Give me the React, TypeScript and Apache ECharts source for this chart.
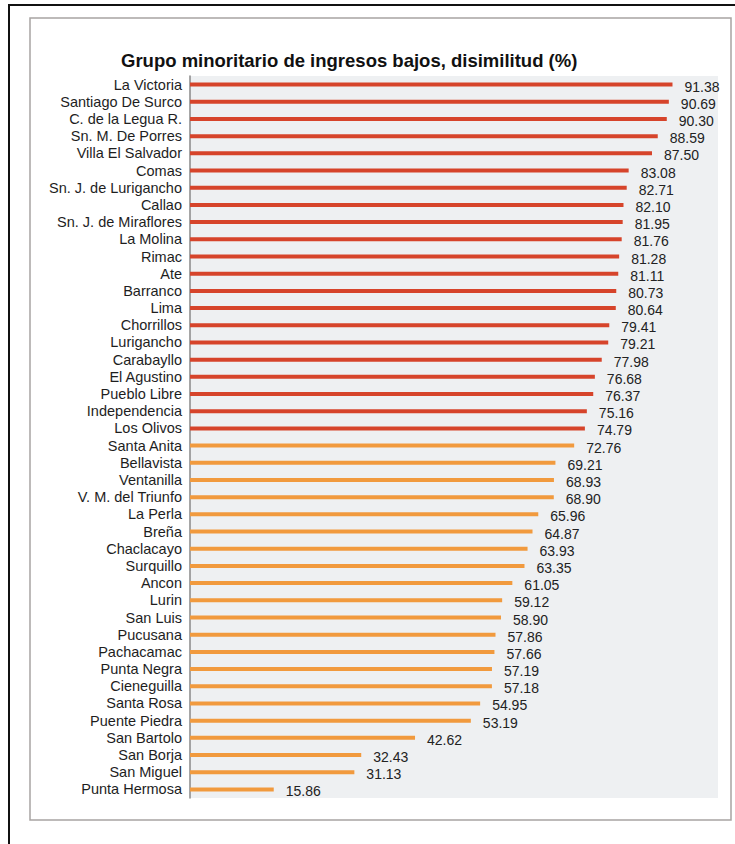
import React, { useEffect, useRef } from "react";
import * as echarts from "echarts";

const districts = [
  "La Victoria", "Santiago De Surco", "C. de la Legua R.", "Sn. M. De Porres", "Villa El Salvador",
  "Comas", "Sn. J. de Lurigancho", "Callao", "Sn. J. de Miraflores", "La Molina",
  "Rimac", "Ate", "Barranco", "Lima", "Chorrillos",
  "Lurigancho", "Carabayllo", "El Agustino", "Pueblo Libre", "Independencia",
  "Los Olivos", "Santa Anita", "Bellavista", "Ventanilla", "V. M. del Triunfo",
  "La Perla", "Breña", "Chaclacayo", "Surquillo", "Ancon",
  "Lurin", "San Luis", "Pucusana", "Pachacamac", "Punta Negra",
  "Cieneguilla", "Santa Rosa", "Puente Piedra", "San Bartolo", "San Borja",
  "San Miguel", "Punta Hermosa",
];

const dissimilarity = [
  91.38, 90.69, 90.3, 88.59, 87.5,
  83.08, 82.71, 82.1, 81.95, 81.76,
  81.28, 81.11, 80.73, 80.64, 79.41,
  79.21, 77.98, 76.68, 76.37, 75.16,
  74.79, 72.76, 69.21, 68.93, 68.9,
  65.96, 64.87, 63.93, 63.35, 61.05,
  59.12, 58.9, 57.86, 57.66, 57.19,
  57.18, 54.95, 53.19, 42.62, 32.43,
  31.13, 15.86,
];

// "high" tier drawn in red, "low" tier in orange
const tiers = [
  "high", "high", "high", "high", "high", "high", "high", "high", "high", "high", "high",
  "high", "high", "high", "high", "high", "high", "high", "high", "high", "high",
  "low", "low", "low", "low", "low", "low", "low", "low", "low", "low", "low",
  "low", "low", "low", "low", "low", "low", "low", "low", "low", "low",
];

const titleText = "Grupo minoritario de ingresos bajos, disimilitud (%)";

const FONT = '"Liberation Sans", Arial, sans-serif';
const RED = "#d6442b";
const ORANGE = "#f19a3e";

export default function App() {
  const ref = useRef<HTMLDivElement>(null);

  useEffect(() => {
    document.body.style.margin = "0";
    if (!ref.current) return;
    const chart = echarts.init(ref.current, null, { renderer: "svg" });
    chart.setOption({
      animation: false,
      backgroundColor: "#ffffff",
      graphic: [
        {
          type: "rect",
          z: -10,
          silent: true,
          shape: { x: 9, y: 5, width: 740, height: 850 },
          style: { fill: "#ffffff", stroke: "#111111", lineWidth: 2 },
        },
        {
          type: "rect",
          z: -9,
          silent: true,
          shape: { x: 30, y: 18, width: 701, height: 802 },
          style: { fill: "#ffffff", stroke: "#a8a4a2", lineWidth: 1.5 },
        },
      ],
      title: {
        text: titleText,
        left: 116,
        top: 46,
        textStyle: { fontFamily: FONT, fontSize: 18.5, fontWeight: "bold", color: "#111111" },
      },
      grid: {
        left: 190,
        right: 17,
        top: 76,
        height: 722,
        show: true,
        backgroundColor: "#eef0f2",
        borderWidth: 0,
      },
      xAxis: {
        type: "value",
        min: 0,
        max: 100,
        show: false,
      },
      yAxis: {
        type: "category",
        inverse: true,
        data: districts,
        axisLine: { show: true, lineStyle: { color: "#888888", width: 1.5 } },
        axisTick: { show: false },
        axisLabel: { fontFamily: FONT, fontSize: 14.5, color: "#1e1e1e", margin: 8, interval: 0 },
        splitLine: { show: false },
      },
      series: [
        {
          type: "bar",
          barWidth: 4,
          data: dissimilarity.map((v, i) => ({
            value: v,
            itemStyle: { color: tiers[i] === "high" ? RED : ORANGE },
          })),
          label: {
            show: true,
            position: "right",
            distance: 12,
            offset: [0, 2],
            fontFamily: FONT,
            fontSize: 14,
            color: "#222222",
            formatter: (p: any) => Number(p.value).toFixed(2),
          },
        },
      ],
    });
    return () => chart.dispose();
  }, []);

  return <div ref={ref} style={{ width: 735, height: 844 }} />;
}
